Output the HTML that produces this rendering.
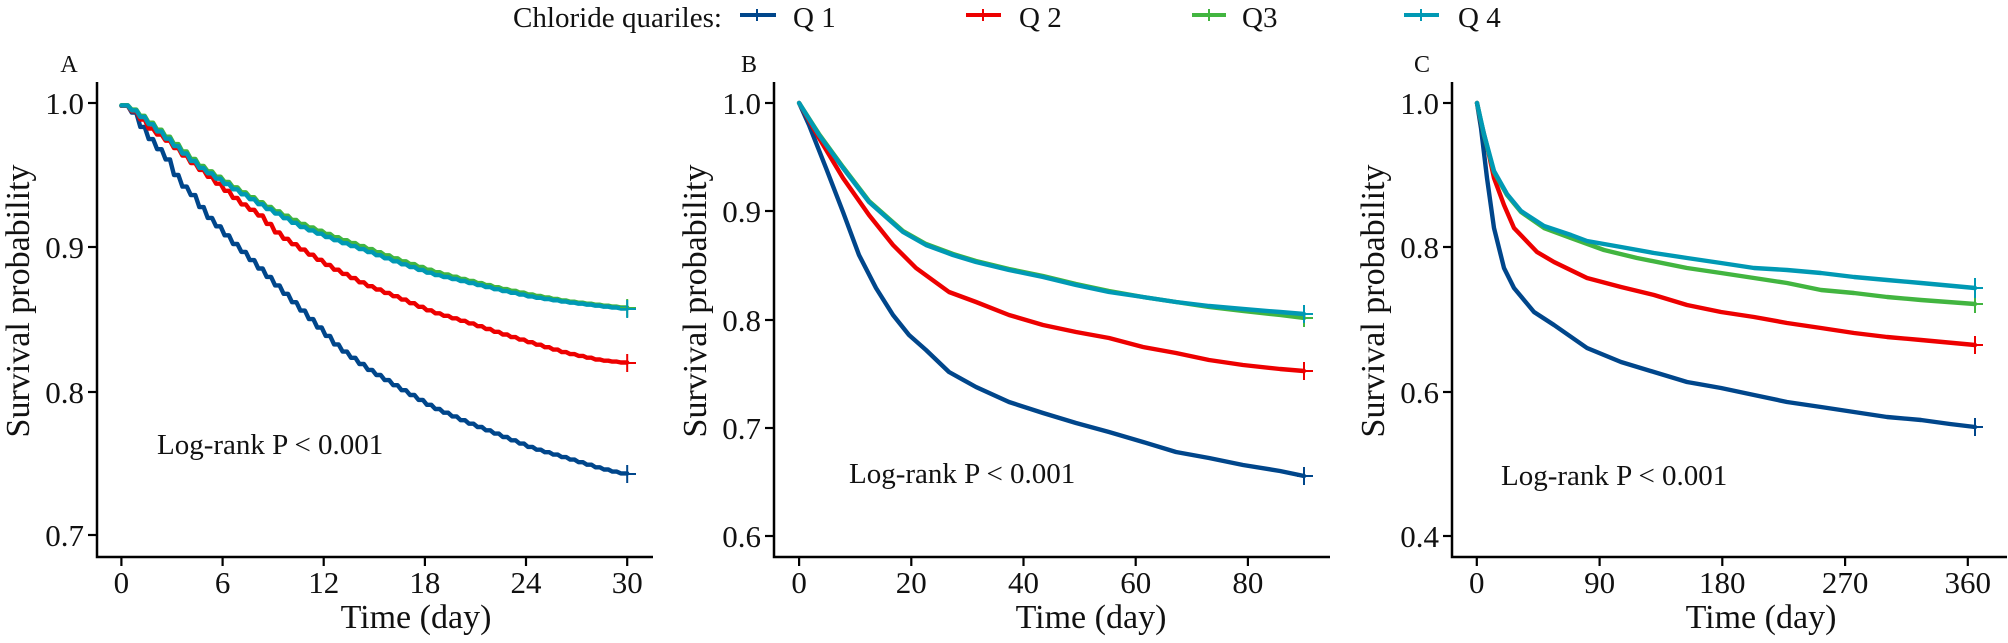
<!DOCTYPE html>
<html>
<head>
<meta charset="utf-8">
<style>
html,body{margin:0;padding:0;background:#fff;}
svg{display:block;}
text{font-family:"Liberation Serif","Times New Roman",serif;fill:#111;}
.tk{font-size:31px;}
.ttl{font-size:34px;}
.lr{font-size:29px;}
.lg{font-size:29px;}
.pl{font-size:24px;}
.ax{stroke:#000;stroke-width:2.5;fill:none;}
.c{fill:none;stroke-width:4.4;stroke-linejoin:round;stroke-linecap:round;}
.q1{stroke:#00468B;}
.q2{stroke:#ED0000;}
.q3{stroke:#42B540;}
.q4{stroke:#0099B4;}
.cm{stroke-width:2;fill:none;}
</style>
</head>
<body>
<svg width="2008" height="643" viewBox="0 0 2008 643" xmlns="http://www.w3.org/2000/svg">
<rect width="2008" height="643" fill="#fff"/>

<!-- Legend -->
<text class="lg" x="513" y="27" textLength="209" lengthAdjust="spacingAndGlyphs">Chloride quariles:</text>
<line x1="740" y1="15" x2="776" y2="15" stroke="#00468B" stroke-width="4"/>
<line x1="757" y1="9" x2="757" y2="21" stroke="#00468B" stroke-width="2"/>
<text class="lg" x="793" y="27">Q 1</text>
<line x1="966" y1="15" x2="1001" y2="15" stroke="#ED0000" stroke-width="4"/>
<line x1="983" y1="9" x2="983" y2="21" stroke="#ED0000" stroke-width="2"/>
<text class="lg" x="1019" y="27">Q 2</text>
<line x1="1192" y1="15" x2="1226" y2="15" stroke="#42B540" stroke-width="4"/>
<line x1="1209" y1="9" x2="1209" y2="21" stroke="#42B540" stroke-width="2"/>
<text class="lg" x="1242" y="27">Q3</text>
<line x1="1404" y1="15" x2="1439" y2="15" stroke="#0099B4" stroke-width="4"/>
<line x1="1421" y1="9" x2="1421" y2="21" stroke="#0099B4" stroke-width="2"/>
<text class="lg" x="1458" y="27">Q 4</text>

<!-- ================= Panel A ================= -->
<text class="pl" x="69" y="72" text-anchor="middle">A</text>
<polyline class="ax" points="97,82 97,557 653,557"/>
<g stroke="#000" stroke-width="2.2">
<line x1="88" y1="103" x2="97" y2="103"/><line x1="88" y1="247" x2="97" y2="247"/>
<line x1="88" y1="392" x2="97" y2="392"/><line x1="88" y1="535" x2="97" y2="535"/>
<line x1="121.4" y1="557" x2="121.4" y2="566"/><line x1="222.6" y1="557" x2="222.6" y2="566"/>
<line x1="323.7" y1="557" x2="323.7" y2="566"/><line x1="424.9" y1="557" x2="424.9" y2="566"/>
<line x1="526" y1="557" x2="526" y2="566"/><line x1="627.2" y1="557" x2="627.2" y2="566"/>
</g>
<g class="tk" text-anchor="end">
<text x="84" y="114">1.0</text><text x="84" y="258">0.9</text>
<text x="84" y="403">0.8</text><text x="84" y="546">0.7</text>
</g>
<g class="tk" text-anchor="middle">
<text x="121.4" y="593">0</text><text x="222.6" y="593">6</text><text x="323.7" y="593">12</text>
<text x="424.9" y="593">18</text><text x="526" y="593">24</text><text x="627.2" y="593">30</text>
</g>
<text class="ttl" x="416" y="628" text-anchor="middle">Time (day)</text>
<text class="ttl" transform="translate(29,301) rotate(-90)" text-anchor="middle">Survival probability</text>
<text class="lr" x="157" y="454">Log-rank P &lt; 0.001</text>

<polyline class="c q1 waveA" points="121.4,103 129,108 136.7,115 143,128 153,142 167,158 180,182 193,195 207,215 220,228 233,242 247,255 267,275 287,295 307,315 320,328 340,348 367,368 400,388 433,407 467,422 500,435 533,448 567,458 600,468 620,473 627.2,474"/>
<polyline class="c q2 waveA" points="121.4,103 136.7,113 150,128 167,140 193,163 220,185 240,202 260,215 280,235 300,248 333,268 367,285 400,298 433,312 467,322 500,333 533,343 567,353 600,360 627.2,363"/>
<polyline class="c q3 waveA" points="121.4,103 136.7,111 167,136 200,165 233,186 267,206 300,223 333,236 367,248 400,260 433,271 467,280 500,288 533,295 567,301 600,305 627.2,308"/>
<polyline class="c q4 waveA" points="121.4,103 136.7,112 167,138 200,167 233,188 267,208 300,226 333,239 367,251 400,263 433,274 467,282 500,290 533,297 567,302 600,306 627.2,309"/>
<g class="cm">
<path d="M627.2,465 V483 M620,474 H636" stroke="#00468B"/>
<path d="M627.2,354 V372 M620,363 H636" stroke="#ED0000"/>
<path d="M627.2,299 V317 M620,308 H636" stroke="#42B540"/>
<path d="M627.2,300 V318 M620,309 H636" stroke="#0099B4"/>
</g>

<!-- ================= Panel B ================= -->
<text class="pl" x="749" y="72" text-anchor="middle">B</text>
<polyline class="ax" points="774,82 774,557 1330,557"/>
<g stroke="#000" stroke-width="2.2">
<line x1="765" y1="103" x2="774" y2="103"/><line x1="765" y1="211" x2="774" y2="211"/>
<line x1="765" y1="320" x2="774" y2="320"/><line x1="765" y1="428" x2="774" y2="428"/>
<line x1="765" y1="536" x2="774" y2="536"/>
<line x1="799.1" y1="557" x2="799.1" y2="566"/><line x1="911.3" y1="557" x2="911.3" y2="566"/>
<line x1="1023.5" y1="557" x2="1023.5" y2="566"/><line x1="1135.7" y1="557" x2="1135.7" y2="566"/>
<line x1="1247.9" y1="557" x2="1247.9" y2="566"/>
</g>
<g class="tk" text-anchor="end">
<text x="761" y="114">1.0</text><text x="761" y="222">0.9</text>
<text x="761" y="331">0.8</text><text x="761" y="439">0.7</text><text x="761" y="547">0.6</text>
</g>
<g class="tk" text-anchor="middle">
<text x="799.1" y="593">0</text><text x="911.3" y="593">20</text><text x="1023.5" y="593">40</text>
<text x="1135.7" y="593">60</text><text x="1247.9" y="593">80</text>
</g>
<text class="ttl" x="1091" y="628" text-anchor="middle">Time (day)</text>
<text class="ttl" transform="translate(706,301) rotate(-90)" text-anchor="middle">Survival probability</text>
<text class="lr" x="849" y="483">Log-rank P &lt; 0.001</text>

<polyline class="c q1" points="799.1,103 809,125 826,168 843,212 859,255 876,288 893,315 909,335 926,350 949,372 976,387 1009,402 1043,413 1076,423 1109,432 1143,442 1176,452 1209,458 1243,465 1280,471 1304,476"/>
<polyline class="c q2" points="799.1,103 819,138 843,178 869,215 893,245 916,268 949,292 976,302 1009,315 1043,325 1076,332 1109,338 1143,347 1176,353 1209,360 1243,365 1280,369 1304,371"/>
<polyline class="c q3" points="799.1,103 819,134 843,167 869,201 903,231 926,244 953,254 976,261 1009,269 1043,276 1076,284 1109,291 1143,297 1176,302 1209,307 1243,311 1280,315 1304,318"/>
<polyline class="c q4" points="799.1,103 819,135 843,168 869,202 903,232 926,245 953,255 976,262 1009,270 1043,277 1076,285 1109,292 1143,297 1176,302 1209,306 1243,309 1280,312 1304,314"/>
<g class="cm">
<path d="M1304,467 V485 M1297,476 H1313" stroke="#00468B"/>
<path d="M1304,362 V380 M1297,371 H1313" stroke="#ED0000"/>
<path d="M1304,309 V327 M1297,318 H1313" stroke="#42B540"/>
<path d="M1304,305 V323 M1297,314 H1313" stroke="#0099B4"/>
</g>

<!-- ================= Panel C ================= -->
<text class="pl" x="1422" y="72" text-anchor="middle">C</text>
<polyline class="ax" points="1452,82 1452,557 2007,557"/>
<g stroke="#000" stroke-width="2.2">
<line x1="1443" y1="103" x2="1452" y2="103"/><line x1="1443" y1="247" x2="1452" y2="247"/>
<line x1="1443" y1="392" x2="1452" y2="392"/><line x1="1443" y1="536" x2="1452" y2="536"/>
<line x1="1476.8" y1="557" x2="1476.8" y2="566"/><line x1="1599.6" y1="557" x2="1599.6" y2="566"/>
<line x1="1722.3" y1="557" x2="1722.3" y2="566"/><line x1="1845.1" y1="557" x2="1845.1" y2="566"/>
<line x1="1967.8" y1="557" x2="1967.8" y2="566"/>
</g>
<g class="tk" text-anchor="end">
<text x="1439" y="114">1.0</text><text x="1439" y="258">0.8</text>
<text x="1439" y="403">0.6</text><text x="1439" y="547">0.4</text>
</g>
<g class="tk" text-anchor="middle">
<text x="1476.8" y="593">0</text><text x="1599.6" y="593">90</text><text x="1722.3" y="593">180</text>
<text x="1845.1" y="593">270</text><text x="1967.8" y="593">360</text>
</g>
<text class="ttl" x="1761" y="628" text-anchor="middle">Time (day)</text>
<text class="ttl" transform="translate(1384,301) rotate(-90)" text-anchor="middle">Survival probability</text>
<text class="lr" x="1501" y="485">Log-rank P &lt; 0.001</text>

<polyline class="c q1" points="1477,103 1481,128 1487,178 1494,228 1504,268 1514,288 1534,312 1554,325 1587,348 1621,362 1654,372 1687,382 1721,388 1754,395 1787,402 1821,407 1854,412 1887,417 1921,420 1950,424 1975,427"/>
<polyline class="c q2" points="1477,103 1481,122 1488,150 1494,178 1504,205 1514,228 1537,252 1554,262 1587,278 1621,287 1654,295 1687,305 1721,312 1754,317 1787,323 1821,328 1854,333 1887,337 1921,340 1975,345"/>
<polyline class="c q3" points="1477,103 1484,135 1494,172 1507,195 1521,212 1544,228 1571,238 1604,250 1637,258 1687,268 1721,273 1754,278 1787,283 1821,290 1854,293 1887,297 1921,300 1975,304"/>
<polyline class="c q4" points="1477,103 1484,134 1494,171 1507,194 1521,211 1544,226 1571,235 1587,241 1621,247 1654,253 1687,258 1721,263 1754,268 1787,270 1821,273 1854,277 1887,280 1921,283 1975,288"/>
<g class="cm">
<path d="M1975,418 V436 M1968,427 H1983" stroke="#00468B"/>
<path d="M1975,336 V354 M1968,345 H1983" stroke="#ED0000"/>
<path d="M1975,295 V313 M1968,304 H1983" stroke="#42B540"/>
<path d="M1975,278 V298 M1968,288 H1983" stroke="#0099B4"/>
</g>
</svg>
<script>
(function(){
  function parse(s){
    return s.trim().split(/\s+/).map(function(p){var a=p.split(',');return [parseFloat(a[0]),parseFloat(a[1])];});
  }
  function interp(pts,x){
    if(x<=pts[0][0]) return pts[0][1];
    for(var i=1;i<pts.length;i++){
      if(x<=pts[i][0]){
        var a=pts[i-1],b=pts[i];
        return a[1]+(b[1]-a[1])*(x-a[0])/(b[0]-a[0]);
      }
    }
    return pts[pts.length-1][1];
  }
  /* gentle wave: mostly flat segments joined by soft ramps (half-day steps) */
  function wave(cls,x0,dx,n,ramp){
    var els=document.querySelectorAll('polyline.'+cls);
    for(var e=0;e<els.length;e++){
      var el=els[e];
      var pts=parse(el.getAttribute('points'));
      var xEnd=pts[pts.length-1][0];
      var out=[];
      for(var k=0;k<n;k++){
        var xa=x0+k*dx, xb=x0+(k+1)*dx;
        var v=interp(pts,xa+0.5*dx);
        var s=(k===0)?xa:xa+ramp/2, t=(k===n-1)?xEnd:xb-ramp/2;
        out.push(s.toFixed(1)+','+v.toFixed(1));
        out.push(t.toFixed(1)+','+v.toFixed(1));
      }
      el.setAttribute('points',out.join(' '));
    }
  }
  wave('waveA',121.4,8.43,60,4);
})();
</script>
</body>
</html>
